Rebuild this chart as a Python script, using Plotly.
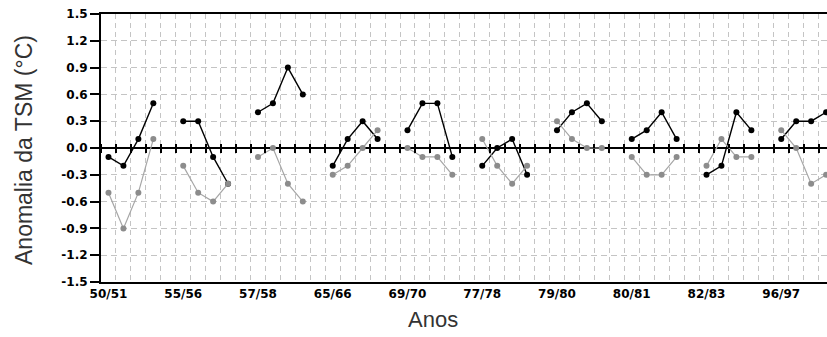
import plotly.graph_objects as go

# ---- data ----
periodos = ["50/51", "55/56", "57/58", "65/66", "69/70",
            "77/78", "79/80", "80/81", "82/83", "96/97"]
pontos_por_periodo = 4

serie_preta = [-0.1, -0.2, 0.1, 0.5,
               0.3, 0.3, -0.1, -0.4,
               0.4, 0.5, 0.9, 0.6,
               -0.2, 0.1, 0.3, 0.1,
               0.2, 0.5, 0.5, -0.1,
               -0.2, 0.0, 0.1, -0.3,
               0.2, 0.4, 0.5, 0.3,
               0.1, 0.2, 0.4, 0.1,
               -0.3, -0.2, 0.4, 0.2,
               0.1, 0.3, 0.3, 0.4]

serie_cinza = [-0.5, -0.9, -0.5, 0.1,
               -0.2, -0.5, -0.6, -0.4,
               -0.1, 0.0, -0.4, -0.6,
               -0.3, -0.2, 0.0, 0.2,
               0.0, -0.1, -0.1, -0.3,
               0.1, -0.2, -0.4, -0.2,
               0.3, 0.1, 0.0, 0.0,
               -0.1, -0.3, -0.3, -0.1,
               -0.2, 0.1, -0.1, -0.1,
               0.2, 0.0, -0.4, -0.3]

y_ticks = [1.5, 1.2, 0.9, 0.6, 0.3, 0.0, -0.3, -0.6, -0.9, -1.2, -1.5]
y_rotulos = ["1.5", "1.2", "0.9", "0.6", "0.3", "0.0",
             "-0.3", "-0.6", "-0.9", "-1.2", "-1.5"]

# ---- build x positions: each period is a block of 4 points + one empty slot ----
passo = pontos_por_periodo + 1


def montar(valores):
    xs, ys = [], []
    for g in range(len(periodos)):
        for j in range(pontos_por_periodo):
            xs.append(g * passo + j)
            ys.append(valores[g * pontos_por_periodo + j])
        xs.append(None)
        ys.append(None)
    return xs, ys


xp, yp = montar(serie_preta)
xc, yc = montar(serie_cinza)

n_slots = len(periodos) * passo
x_range = [-0.5, 48.06]
grid_vals = [i + 0.5 for i in range(-1, n_slots)]

fig = go.Figure()
fig.add_trace(go.Scatter(
    x=xp, y=yp, mode="lines+markers", name="Série 1",
    line=dict(color="#000000", width=1.4),
    marker=dict(color="#000000", size=6, symbol="circle"),
    showlegend=False, connectgaps=False))
fig.add_trace(go.Scatter(
    x=xc, y=yc, mode="lines+markers", name="Série 2",
    line=dict(color="#a6a6a6", width=1.2),
    marker=dict(color="#8c8c8c", size=6, symbol="circle"),
    showlegend=False, connectgaps=False))
# empty helper traces so the zero-line tick axes exist
fig.add_trace(go.Scatter(x=[], y=[], xaxis="x2", yaxis="y", showlegend=False, hoverinfo="skip"))
fig.add_trace(go.Scatter(x=[], y=[], xaxis="x3", yaxis="y", showlegend=False, hoverinfo="skip"))

tick_font = dict(family="DejaVu Sans", size=12, color="#000000", weight="bold")

fig.update_layout(
    width=827, height=337,
    margin=dict(l=101, r=0, t=14, b=55),
    paper_bgcolor="white", plot_bgcolor="white",
    xaxis=dict(
        range=x_range, tickmode="array",
        tickvals=[g * passo for g in range(len(periodos))], ticktext=periodos,
        tickfont=tick_font, ticks="",
        showgrid=False, zeroline=False,
        showline=True, linecolor="#000000", linewidth=2, mirror=True,
    ),
    xaxis2=dict(
        range=x_range, overlaying="x", anchor="free", position=0.5, side="bottom",
        tickmode="array", tickvals=grid_vals, showticklabels=False,
        ticks="outside", ticklen=4, tickwidth=1.5, tickcolor="#000000",
        showgrid=True, gridcolor="#c4c4c4", gridwidth=1, griddash="5px,4px",
        zeroline=False, showline=False,
    ),
    xaxis3=dict(
        range=x_range, overlaying="x", anchor="free", position=0.5, side="top",
        tickmode="array", tickvals=grid_vals, showticklabels=False,
        ticks="outside", ticklen=4, tickwidth=1.5, tickcolor="#000000",
        showgrid=False, zeroline=False, showline=False,
    ),
    yaxis=dict(
        range=[-1.5, 1.5], tickmode="array", tickvals=y_ticks, ticktext=y_rotulos,
        tickfont=tick_font, ticks="outside", ticklen=9, tickwidth=2, tickcolor="#000000",
        showgrid=True, gridcolor="#c4c4c4", gridwidth=1, griddash="6px,4px",
        zeroline=True, zerolinecolor="#000000", zerolinewidth=2,
        showline=True, linecolor="#000000", linewidth=2, mirror=False,
    ),
    annotations=[
        dict(text="Anomalia da TSM (°C)", xref="paper", yref="paper",
             x=(24 - 101) / 726, y=(282 - 150) / 268, xanchor="center", yanchor="middle",
             textangle=-90, showarrow=False,
             font=dict(family="Liberation Sans", size=23, color="#333333")),
        dict(text="Anos", xref="paper", yref="paper",
             x=(432.5 - 101) / 726, y=(282 - 319) / 268, xanchor="center", yanchor="middle",
             showarrow=False,
             font=dict(family="Liberation Sans", size=22, color="#333333")),
    ],
)

fig.write_html("out.html",
               config={"displayModeBar": False},
               post_script="document.body.style.margin='0';document.body.style.overflow='hidden';")
